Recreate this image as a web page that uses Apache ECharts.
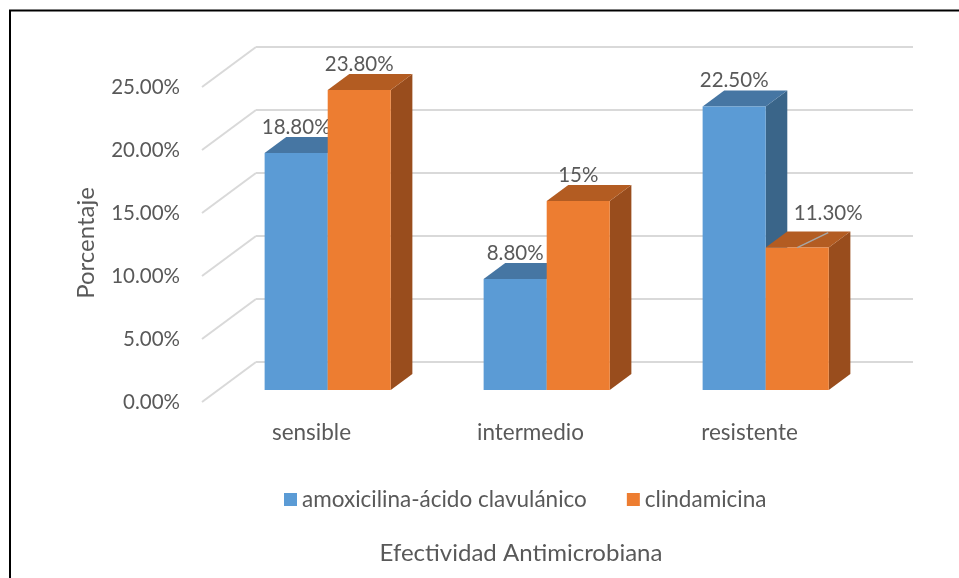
<!DOCTYPE html>
<html>
<head>
<meta charset="utf-8">
<script src="https://cdn.jsdelivr.net/npm/echarts@6/dist/echarts.min.js"></script>
<style>
  html, body { margin: 0; padding: 0; background: #ffffff; }
  #chart { width: 959px; height: 578px; }
</style>
</head>
<body>
<div id="chart"></div>
<script>
// Categories and percentages per antibiotic
const categories = ['sensible', 'intermedio', 'resistente'];
const seriesNames = ['amoxicilina-ácido clavulánico', 'clindamicina'];
const amoxicilina = [18.8, 8.8, 22.5];
const clindamicina = [23.8, 15, 11.3];
const yTicks = [0, 5, 10, 15, 20, 25];
const axisTitleY = 'Porcentaje';
const axisTitleX = 'Efectividad Antimicrobiana';

// Styling / pseudo-3D projection settings
const FONT = 'Lato';
const TEXT = '#595959';
const GRID_COLOR = '#d9d9d9';
const NUM_SIZE = 20.5;       // tick and data label text
const CAT_SIZE = 22.5;       // category and legend text
const TITLE_SIZE = 24;       // axis titles
const DEPTH_X = 54;          // horizontal shift from floor front edge to back wall
const DEPTH_Y = 40;          // vertical shift from floor front edge to back wall
const BAR_FRONT = 0.3;       // bar front plane, as share of floor depth
const BAR_DEPTH = 0.4;       // bar thickness, as share of floor depth
const BAR_FRAC = 0.288;      // bar width as share of category band
const palettes = [
  { front: '#5b9bd5', top: '#4676a3', side: '#3a6589' },
  { front: '#ed7d31', top: '#b35c22', side: '#994d1d' }
];
// label nudges (series, category) -> [dx, dy] with a leader line
const labelNudge = { '1-2': [31, -8] };

function fmtValue(v) {
  return (Number.isInteger(v) ? String(v) : v.toFixed(2)) + '%';
}

function wallRenderer(params, api) {
  const v = api.value(0);
  const p = api.coord([0, v]);
  const band = api.size([1, 0])[0];
  const x0 = p[0] - band / 2;
  const y0 = p[1];
  const style = { stroke: GRID_COLOR, lineWidth: 2, fill: null };
  return {
    type: 'group',
    children: [
      { type: 'line', shape: { x1: x0, y1: y0, x2: x0 + DEPTH_X, y2: y0 - DEPTH_Y }, style },
      { type: 'line', shape: { x1: x0 + DEPTH_X, y1: y0 - DEPTH_Y, x2: x0 + DEPTH_X + band * categories.length, y2: y0 - DEPTH_Y }, style }
    ]
  };
}

function barRenderer(sIdx) {
  const pal = palettes[sIdx];
  return function (params, api) {
    const cat = api.value(0);
    const val = api.value(1);
    const base = api.coord([cat, 0]);
    const top = api.coord([cat, val]);
    const band = api.size([1, 0])[0];
    const w = band * BAR_FRAC;
    const fx = DEPTH_X * BAR_FRONT, fy = DEPTH_Y * BAR_FRONT;
    const dx = DEPTH_X * BAR_DEPTH, dy = DEPTH_Y * BAR_DEPTH;
    const xl = base[0] + fx + (sIdx === 0 ? -w : 0);
    const xr = xl + w;
    const yb = base[1] - fy;
    const yt = top[1] - fy;
    const children = [
      { type: 'polygon', shape: { points: [[xr, yb], [xr + dx, yb - dy], [xr + dx, yt - dy], [xr, yt]] }, style: { fill: pal.side } },
      { type: 'polygon', shape: { points: [[xl, yt], [xl + dx, yt - dy], [xr + dx, yt - dy], [xr, yt]] }, style: { fill: pal.top } },
      { type: 'rect', shape: { x: xl, y: yt, width: w, height: yb - yt }, style: { fill: pal.front } }
    ];
    const cx = (xl + xr) / 2;
    let lx = cx, ly = yt - 26;
    const nudge = labelNudge[sIdx + '-' + cat];
    if (nudge) {
      lx += nudge[0];
      ly += nudge[1];
      children.push({ type: 'line', shape: { x1: cx, y1: yt, x2: lx, y2: yt - 15 }, style: { stroke: '#a6a6a6', lineWidth: 1.5 } });
    }
    children.push({
      type: 'text',
      style: { text: fmtValue(val), x: lx, y: ly, align: 'center', verticalAlign: 'middle', fill: TEXT, font: NUM_SIZE + 'px ' + FONT }
    });
    return { type: 'group', children };
  };
}

const chart = echarts.init(document.getElementById('chart'), null, { renderer: 'canvas' });

chart.setOption({
  backgroundColor: '#ffffff',
  animation: false,
  textStyle: { fontFamily: FONT },
  grid: { left: 202, width: 657, top: 87, bottom: 176 },
  xAxis: {
    type: 'category',
    data: categories,
    axisLine: { show: false },
    axisTick: { show: false },
    axisLabel: { color: TEXT, fontSize: CAT_SIZE, fontFamily: FONT, margin: 19 }
  },
  yAxis: {
    type: 'value',
    min: 0,
    max: 25,
    interval: 5,
    axisLine: { show: false },
    axisTick: { show: false },
    splitLine: { show: false },
    axisLabel: { color: TEXT, fontSize: NUM_SIZE, fontFamily: FONT, margin: 22, formatter: v => v.toFixed(2) + '%' }
  },
  legend: {
    left: 279,
    top: 483,
    icon: 'rect',
    itemWidth: 13,
    itemHeight: 13,
    itemGap: 40,
    data: seriesNames,
    textStyle: { color: TEXT, fontSize: CAT_SIZE, fontFamily: FONT }
  },
  graphic: [
    { type: 'rect', shape: { x: 10, y: 10.5, width: 1000, height: 700 }, style: { fill: null, stroke: '#000', lineWidth: 2 }, silent: true },
    { type: 'text', x: 86, y: 243, rotation: Math.PI / 2, style: { text: axisTitleY, align: 'center', verticalAlign: 'middle', fill: TEXT, font: TITLE_SIZE + 'px ' + FONT } },
    { type: 'text', x: 521, y: 553, style: { text: axisTitleX, align: 'center', verticalAlign: 'middle', fill: TEXT, font: TITLE_SIZE + 'px ' + FONT } }
  ],
  series: [
    {
      type: 'custom',
      name: 'wall',
      silent: true,
      z: 1,
      renderItem: wallRenderer,
      data: yTicks.map(v => [v]),
      encode: { y: 0 }
    },
    {
      type: 'custom',
      name: seriesNames[0],
      z: 2,
      itemStyle: { color: palettes[0].front },
      renderItem: barRenderer(0),
      data: amoxicilina.map((v, i) => [i, v]),
      encode: { x: 0, y: 1 }
    },
    {
      type: 'custom',
      name: seriesNames[1],
      z: 3,
      itemStyle: { color: palettes[1].front },
      renderItem: barRenderer(1),
      data: clindamicina.map((v, i) => [i, v]),
      encode: { x: 0, y: 1 }
    }
  ]
});
</script>
</body>
</html>
